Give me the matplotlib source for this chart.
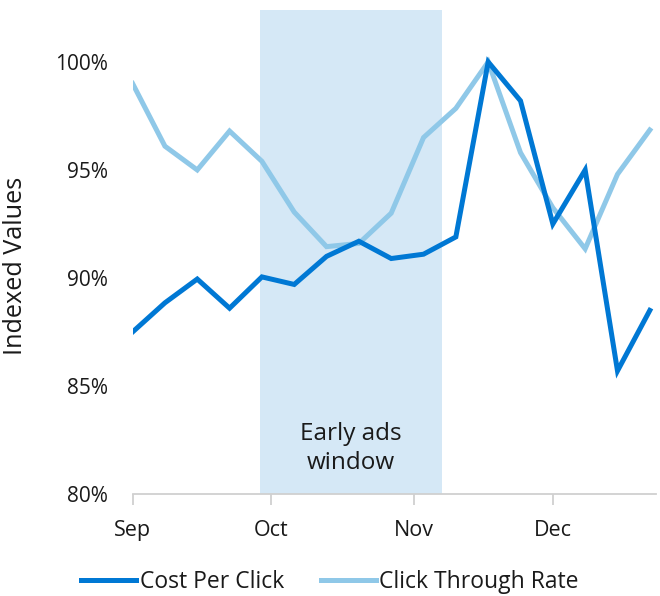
import matplotlib
matplotlib.use("Agg")
import matplotlib.pyplot as plt
import matplotlib.dates as mdates
import numpy as np
from datetime import datetime

weeks = ["2023-09-01", "2023-09-08", "2023-09-15", "2023-09-22", "2023-09-29",
         "2023-10-06", "2023-10-13", "2023-10-20", "2023-10-27", "2023-11-03",
         "2023-11-10", "2023-11-17", "2023-11-24", "2023-12-01", "2023-12-08",
         "2023-12-15", "2023-12-22"]
cost_per_click = [87.5, 88.85, 89.95, 88.6, 90.05, 89.7, 91.0, 91.7, 90.9, 91.1,
                  91.9, 100.0, 98.2, 92.5, 95.0, 85.7, 88.5]
click_through_rate = [99.0, 96.1, 95.0, 96.8, 95.4, 93.05, 91.45, 91.6, 93.0, 96.5,
                      97.85, 100.0, 95.8, 93.25, 91.35, 94.8, 96.85]
tick_dates = ["2023-09-01", "2023-10-01", "2023-11-01", "2023-12-01"]
tick_labels = ["Sep", "Oct", "Nov", "Dec"]
window_start, window_end = "2023-09-28 12:00", "2023-11-07 00:00"
window_label = "Early ads\nwindow"

plt.rcParams['font.family'] = ['Open Sans', 'DejaVu Sans']

x = [datetime.fromisoformat(d) for d in weeks]
fig = plt.figure(figsize=(6.6, 5.96), dpi=100)
ax = fig.add_axes([0.2009, 0.1711, 0.793, 0.812])

ax.axvspan(datetime.fromisoformat(window_start), datetime.fromisoformat(window_end),
           color="#D5E8F6", lw=0, zorder=0)
ws = mdates.date2num(datetime.fromisoformat(window_start))
we = mdates.date2num(datetime.fromisoformat(window_end))
ax.text(mdates.num2date((ws + we) / 2), 82.1, window_label, ha="center", va="center",
        fontsize=17.5, color="#1a1a1a", linespacing=1.3)

ax.plot(x, cost_per_click, color="#0078D4", lw=3.6, label="Cost Per Click",
        solid_joinstyle="miter", zorder=3)
ax.plot(x, click_through_rate, color="#8FC8E8", lw=3.6, label="Click Through Rate",
        solid_joinstyle="miter", zorder=2)

ax.set_xlim(datetime(2023, 9, 1), datetime(2023, 12, 23, 8))
ax.set_ylim(80, 102.4)
ax.set_xticks([datetime.fromisoformat(d) for d in tick_dates])
ax.set_xticklabels(tick_labels)
ax.set_yticks([80, 85, 90, 95, 100])
ax.set_yticklabels([f"{v}%" for v in [80, 85, 90, 95, 100]])

for s in ["top", "right", "left"]:
    ax.spines[s].set_visible(False)
ax.spines["bottom"].set_color("#D0D0D0")
ax.spines["bottom"].set_linewidth(1.3)
ax.tick_params(axis="x", length=8, width=1.3, color="#D0D0D0", labelsize=15.5,
               labelcolor="#1a1a1a", pad=11)
ax.tick_params(axis="y", length=0, labelsize=15, labelcolor="#1a1a1a", pad=18)

ax.set_ylabel("Indexed Values", fontsize=18.2, color="#1a1a1a")
ax.yaxis.set_label_coords(-0.2, 0.471)

leg = fig.legend(loc="center", bbox_to_anchor=(0.5, 0.024), ncol=2, frameon=False,
                 fontsize=16.5, handlelength=2.4, handletextpad=0.15, columnspacing=1.6)
for t in leg.get_texts():
    t.set_color("#1a1a1a")

fig.savefig("out.png", dpi=100)
